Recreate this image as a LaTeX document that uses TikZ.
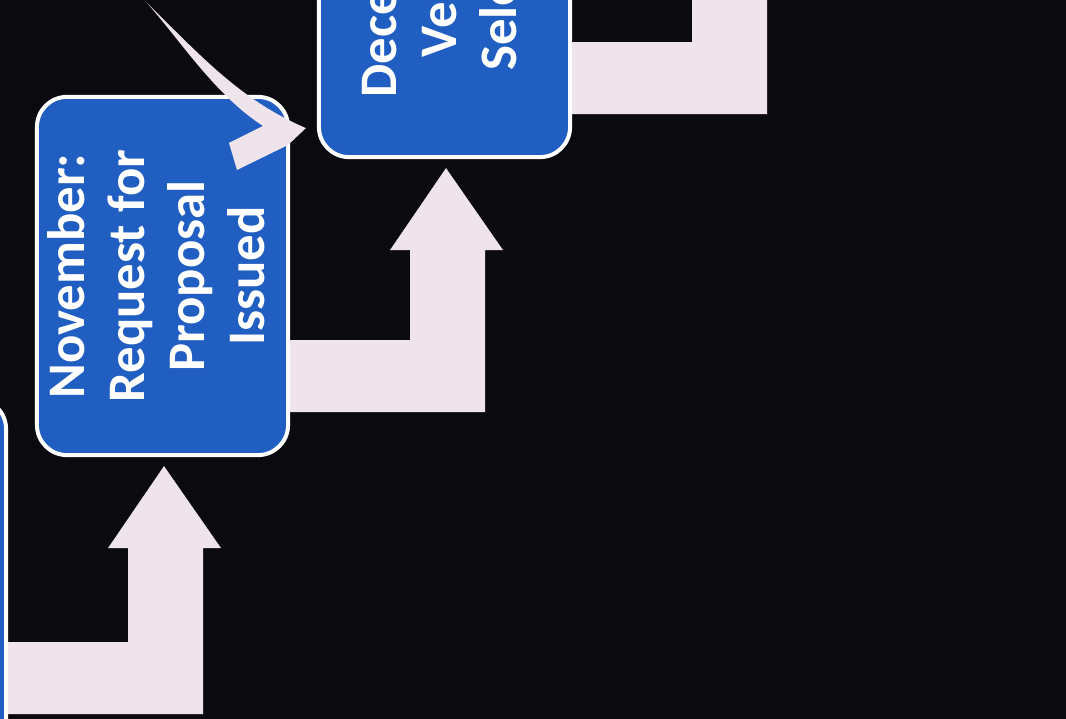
\documentclass[tikz,border=0pt]{standalone}
\usepackage{fontspec}
\setmainfont{Carlito}
\usetikzlibrary{calc}
\definecolor{bgdark}{HTML}{0B0B0F}
\definecolor{stageblue}{HTML}{215EC2}
\definecolor{flowpink}{HTML}{EFE3EC}
% bent block arrow: out of the right side of #1, up into the point #2
\newcommand{\bentarrow}[2]{%
  \fill[flow] ($(#1.south east)+(0,-117)$) -| ($(#2)+(-34.5,91)$) -- ($(#2)+(-54.5,91)$)
    -- ($(#2)+(1.5,9)$) -- ($(#2)+(58.5,91)$) -- ($(#2)+(40.5,91)$) |- ($(#1.south east)+(0,-45)$) -- cycle;}
\newcommand{\stagetext}[1]{\rotatebox{90}{\begin{tabular}{c}#1\end{tabular}}}
\begin{document}
\begin{tikzpicture}[x=0.01cm, y=-0.01cm,
    stage/.style ={rectangle, rounded corners=0.3cm, draw=white, line width=0.04cm, fill=stageblue,
      minimum width=2.51cm, minimum height=3.58cm, inner sep=0pt, text=white,
      font=\fontsize{15}{17}\selectfont\bfseries},
    flow/.style ={fill=flowpink}]
   \fill[bgdark] (0,0) rectangle (1066,719);
   \useasboundingbox (0,0) rectangle (1066,719);
   \clip (0,0) rectangle (1066,719);

   \node[stage] (prev) at (-119.5,578) {};
   \node[stage] (nov)  at (162.5,276)  {\stagetext{November:\\Request for\\Proposal\\Issued}};
   \node[stage] (dec)  at (444.5,-22)  {\stagetext{December:\\Vendor\\Selected}};
   \coordinate (next) at ($(dec.south)+(282,-298)$);

   \bentarrow{prev}{nov.south}
   \bentarrow{nov}{dec.south}
   \bentarrow{dec}{next}

   % curved arrow coming in from above
   \coordinate (back) at (147,3);
   \fill[flow] (back) .. controls (200,55) and (240,100) .. ($(dec.south west)+(-11,-31)$)
     -- (288,145) -- (237,170) -- (229,143) -- (263,126) .. controls (215,95) and (180,40) .. (back) -- cycle;
 \end{tikzpicture}
\end{document}
